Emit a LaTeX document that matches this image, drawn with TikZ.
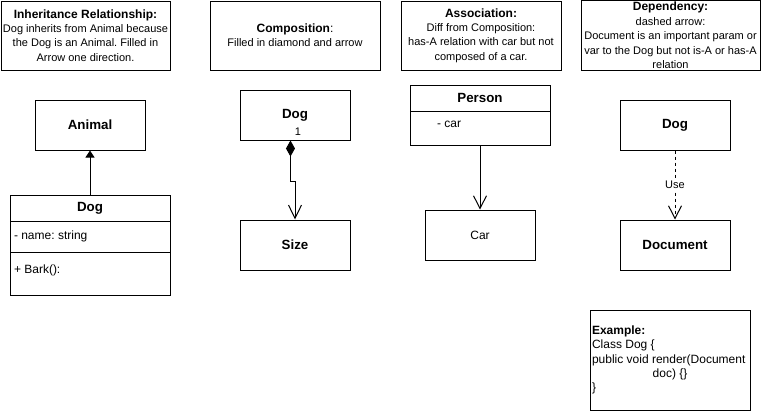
\documentclass[tikz,border=0pt]{standalone}
\usepackage{fontspec}
\setmainfont{Liberation Sans}
\frenchspacing
\usetikzlibrary{positioning, arrows.meta}
\newcommand{\ntitle}[1]{{\fontsize{9pt}{10.8pt}\selectfont #1}}
\tikzstyle{note} = [rectangle, minimum height=51.75pt, text centered, align=center, draw=black, fill=white, line width=0.75pt, inner sep=1pt, font=\fontsize{8.25pt}{10.8pt}\selectfont]
\tikzstyle{cls} = [rectangle, minimum width=82.5pt, minimum height=37.5pt, text centered, draw=black, fill=white, line width=0.75pt]
\tikzstyle{row} = [rectangle, align=flush left, draw=black, fill=white, line width=0.75pt, inner sep=3pt, outer sep=0pt]
\tikzstyle{arrow} = [line width=0.75pt, -{Straight Barb[length=9.5pt,width=9.75pt]}]
\tikzstyle{inh} = [line width=0.75pt, -{Triangle[length=5.25pt,width=6.75pt]}]
\tikzstyle{comp} = [line width=0.75pt, {Diamond[length=12pt,width=6.75pt]}-{Straight Barb[length=10pt,width=9.75pt]}]

\begin{document}
\begin{tikzpicture}[x=0.75pt, y=-0.75pt, font=\fontsize{9pt}{10.8pt}\selectfont]
\useasboundingbox (0,0) rectangle (762,411);

% notes
\node (inhnote) [note, minimum width=126.75pt] at (85.5,35.5) {\ntitle{\textbf{Inheritance Relationship:}}\\Dog inherits from Animal because\\the Dog is an Animal. Filled in\\Arrow one direction.};
\node (compnote) [note, minimum width=127.5pt] at (295,35.5) {\ntitle{\textbf{Composition}:}\\Filled in diamond and arrow};
\node (assocnote) [note, minimum width=120pt] at (481,35.5) {\ntitle{\textbf{Association:}}\\Diff from Composition:\\has-A relation with car but not\\composed of a car.};
\node (depnote) [note, minimum width=134.25pt] at (670.5,35.5) {\ntitle{\textbf{Dependency:}}\\dashed arrow:\\Document is an important param or\\var to the Dog but not is-A or has-A\\relation};

% inheritance
\node (animal) [cls, font=\bfseries] at (90,125) {Animal};
\node (doghd) [row, anchor=north, text width=114pt, align=center, minimum height=19.5pt, font=\bfseries] at (90,195) {Dog};
\node (dogat) [row, text width=114pt, minimum height=23.25pt, below=0pt of doghd] {- name: string};
\node (dogop) [row, text width=114pt, minimum height=32.25pt, text height=7pt, text depth=7.35pt, below=0pt of dogat] {+ Bark():};
\draw [inh] (doghd) -- (animal);

% composition
\node (dogc) [cls, font=\bfseries] at (295,115) {Dog};
\node (size) [cls, font=\bfseries] at (295,245) {Size};
\node (one) [font=\fontsize{8.25pt}{9.9pt}\selectfont] at (298,132) {1};
\draw [comp] ([xshift=-3.4pt]dogc.south) -- ++(0,41) -| (size.north);

% association
\node (personhd) [row, anchor=north, text width=99pt, align=center, minimum height=19.5pt, font=\bfseries] at (480,85) {Person};
\node (personat) [row, text width=99pt, minimum height=25.5pt, text height=6pt, text depth=7.1pt, below=0pt of personhd] {\hspace{17.25pt}- car};
\node (car) [cls] at (480,235) {Car};
\draw [arrow] (personat) -- (car);

% dependency
\node (dogd) [cls, font=\bfseries] at (675,125) {Dog};
\node (doc) [cls, font=\bfseries] at (675,245) {Document};
\draw [arrow, dash pattern=on 2.25pt off 2.25pt] (dogd) -- node [fill=white, inner sep=1pt, font=\fontsize{8.25pt}{9.9pt}\selectfont] {Use} (doc);

\node (example) [rectangle, draw=black, fill=white, line width=0.75pt, minimum width=120pt, minimum height=75pt, text width=117pt, inner sep=1.5pt, align=flush left] at (670,360) {\textbf{Example:}\\Class Dog \{\\public void render(Document\\\makebox[\hsize]{doc) \{\}}\\\}};
\end{tikzpicture}
\end{document}
